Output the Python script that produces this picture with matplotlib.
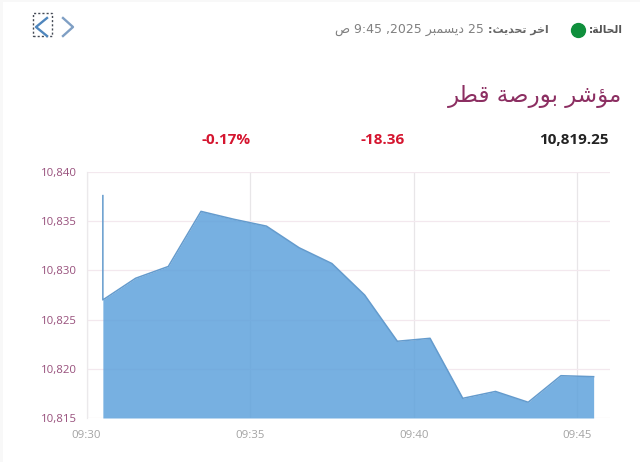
#!/usr/bin/env python3
# -*- coding: utf-8 -*-

import matplotlib
matplotlib.use('Agg')
import matplotlib.pyplot as plt
from matplotlib.lines import Line2D
from matplotlib.patches import Rectangle

# minutes after 09:00, first point is doubled for the opening spike
minutes = [30.5, 30.5, 31.5, 32.5, 33.5, 34.5, 35.5, 36.5, 37.5, 38.5, 39.5, 40.5, 41.5, 42.5, 43.5, 44.5, 45.5]
index_values = [10837.6, 10827.0, 10829.2, 10830.4, 10836.0, 10835.2, 10834.5, 10832.3, 10830.7, 10827.5,
                10822.8, 10823.1, 10817.0, 10817.7, 10816.6, 10819.3, 10819.2]

y_ticks = [10815, 10820, 10825, 10830, 10835, 10840]
x_ticks = [30, 35, 40, 45]
x_labels = ['09:30', '09:35', '09:40', '09:45']

title = 'مؤشر بورصة قطر'
status_label = 'الحالة:'
update_label = 'اخر تحديث:'
update_month = 'ديسمبر'
last_value = '10,819.25'
change_value = '-18.36'
change_pct = '-0.17%'

W, H = 640, 462

# isolated, final, initial, medial forms (DejaVu has presentation forms, matplotlib does not shape)
FORMS = {
	'ا': (0xFE8D, 0xFE8E), 'ؤ': (0xFE85, 0xFE86), 'ة': (0xFE93, 0xFE94), 'د': (0xFEA9, 0xFEAA),
	'ر': (0xFEAD, 0xFEAE), 'و': (0xFEED, 0xFEEE),
	'ب': (0xFE8F, 0xFE90, 0xFE91, 0xFE92), 'ت': (0xFE95, 0xFE96, 0xFE97, 0xFE98),
	'ث': (0xFE99, 0xFE9A, 0xFE9B, 0xFE9C), 'ح': (0xFEA1, 0xFEA2, 0xFEA3, 0xFEA4),
	'خ': (0xFEA5, 0xFEA6, 0xFEA7, 0xFEA8), 'س': (0xFEB1, 0xFEB2, 0xFEB3, 0xFEB4),
	'ش': (0xFEB5, 0xFEB6, 0xFEB7, 0xFEB8), 'ص': (0xFEB9, 0xFEBA, 0xFEBB, 0xFEBC),
	'ط': (0xFEC1, 0xFEC2, 0xFEC3, 0xFEC4), 'ق': (0xFED5, 0xFED6, 0xFED7, 0xFED8),
	'ل': (0xFEDD, 0xFEDE, 0xFEDF, 0xFEE0), 'م': (0xFEE1, 0xFEE2, 0xFEE3, 0xFEE4),
	'ي': (0xFEF1, 0xFEF2, 0xFEF3, 0xFEF4),
}


def shape(s: str) -> str:
	"""
	Joins Arabic letters and reverses them into visual order.
	"""
	out = ''
	for i, c in enumerate(s):
		if c not in FORMS:
			out += c
			continue
		prev_joins = i > 0 and s[i - 1] in FORMS and len(FORMS[s[i - 1]]) == 4
		next_joins = i + 1 < len(s) and s[i + 1] in FORMS
		f = FORMS[c]
		if len(f) == 2:
			out += chr(f[1] if prev_joins else f[0])
		elif prev_joins and next_joins:
			out += chr(f[3])
		elif prev_joins:
			out += chr(f[1])
		elif next_joins:
			out += chr(f[2])
		else:
			out += chr(f[0])
	return out[::-1]


def fx(px):
	return px / W


def fy(py):
	return 1 - py / H


fig = plt.figure(figsize=(W / 100, H / 100), dpi=100, facecolor='white')

# light page edge left and top
fig.patches.append(Rectangle((0, fy(2)), 1, 2 / H, transform=fig.transFigure, fc='#f8f8f8', ec='none'))
fig.patches.append(Rectangle((0, 0), 3 / W, 1, transform=fig.transFigure, fc='#f8f8f8', ec='none'))

ax = fig.add_axes([fx(86.5), fy(418), fx(610 - 86.5), (418 - 172) / H])
ax.set_xlim(30, 46)
ax.set_ylim(10815, 10840)

ax.fill_between(minutes, index_values, 10815, color='#5fa2dc', alpha=0.85, lw=0, zorder=3)
ax.plot(minutes, index_values, color='#649bcd', lw=1.1, zorder=4)

ax.set_yticks(y_ticks)
ax.set_yticklabels(['{:,}'.format(v) for v in y_ticks], fontfamily='Open Sans', fontsize=8.2, color='#98507c')
ax.set_xticks(x_ticks)
ax.set_xticklabels(x_labels, fontfamily='Open Sans', fontsize=8.2, color='#a3a3a3')
ax.tick_params(axis='both', length=0)
ax.tick_params(axis='y', pad=7)
ax.tick_params(axis='x', pad=9)

ax.grid(axis='y', color='#f3e8ee', lw=0.9, zorder=1)
ax.grid(axis='x', color='#e8e6e8', lw=0.9, zorder=1)
ax.set_axisbelow(True)

for side in ['top', 'right', 'bottom']:
	ax.spines[side].set_visible(False)
ax.spines['left'].set_color('#ebe9eb')
ax.spines['left'].set_linewidth(0.9)

# header row
fig.text(fx(622), fy(96), shape(title), family='DejaVu Sans', fontsize=16.5, color='#8c2f62', ha='right', va='center')
fig.text(fx(609), fy(140), last_value, family='Open Sans', fontweight='bold', fontsize=11, color='#222222', ha='right', va='center')
fig.text(fx(405), fy(140), change_value, family='Open Sans', fontweight='bold', fontsize=11, color='#d5152f', ha='right', va='center')
fig.text(fx(251), fy(140), change_pct, family='Open Sans', fontweight='bold', fontsize=11, color='#d5152f', ha='right', va='center')

# status line
fig.text(fx(623), fy(30), shape(status_label), family='DejaVu Sans', fontweight='bold', fontsize=7.7, color='#555555', ha='right', va='center')
fig.add_artist(Line2D([fx(578)], [fy(29.5)], marker='o', ms=10, mfc='#0f8f3c', mec='#0f8f3c', transform=fig.transFigure))
fig.text(fx(549), fy(30), shape(update_label), family='DejaVu Sans', fontweight='bold', fontsize=7.9, color='#666666', ha='right', va='center')
update_text = 'ص' + ' 9:45 ,2025 ' + shape(update_month) + ' 25'
fig.text(fx(484), fy(30), update_text, family='DejaVu Sans', fontsize=9, color='#808080', ha='right', va='center')

# pager arrows
fig.add_artist(Line2D([fx(47), fx(36), fx(47)], [fy(18), fy(27), fy(36)], color='#4f86bd', lw=1.7, transform=fig.transFigure))
fig.add_artist(Line2D([fx(63), fx(73), fx(63)], [fy(18), fy(27), fy(36)], color='#7f9fc4', lw=1.7, transform=fig.transFigure))
fig.patches.append(Rectangle((fx(32.5), fy(36)), 19 / W, 23 / H, transform=fig.transFigure, fc='none', ec='#444a55', lw=1, ls=(0, (1.5, 1.5))))

fig.savefig('out.png', dpi=100)
